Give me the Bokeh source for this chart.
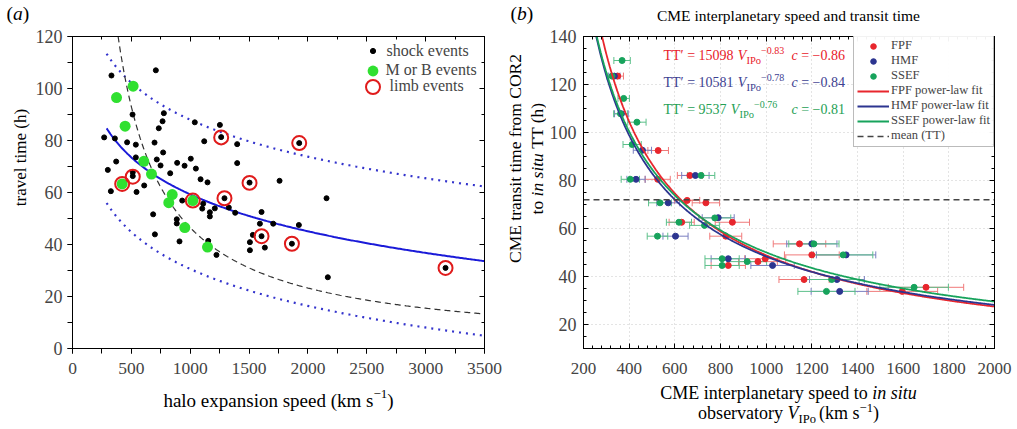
import numpy as np
from math import pi
from bokeh.plotting import figure
from bokeh.layouts import row, column
from bokeh.models import (Label, Legend, LegendItem, LinearAxis, Range1d,
                          SingleIntervalTicker, Whisker, TeeHead, ColumnDataSource)
from bokeh.embed import file_html
from bokeh.resources import INLINE

FONT = "Liberation Serif"

# ---------------- Panel (a) data ----------------
shock_speed = [331, 708, 510, 776, 765, 733, 1039, 1252, 269, 360, 464, 538, 697, 1119,
               1263, 1399, 1926, 371, 538, 770, 889, 952, 1005, 716, 748, 1048, 1399, 300,
               512, 512, 609, 830, 1088, 1147, 1759, 1504, 326, 544, 2158, 1291, 1110, 1102,
               1167, 1167, 1209, 1328, 1382, 932, 1606, 1592, 1705, 1923, 1532, 1606, 1507,
               1634, 1507, 1864, 685, 700, 886, 886, 909, 1153, 1223, 2169, 3169]
shock_time = [105, 107, 90, 90.5, 87.4, 84.7, 87, 86, 81.2, 80.8, 79.3, 78.4, 79.2, 79.7,
              81.3, 78.6, 79, 71.9, 73.5, 75.4, 71.4, 70.3, 73, 72.7, 70.4, 69.2, 71.3, 68.7,
              67.8, 66.3, 62.7, 67.4, 65.1, 63.9, 64.5, 63.8, 60.5, 60.2, 57.8, 57.8, 55.7, 53.8,
              52.4, 50.8, 53.9, 54.2, 52.2, 56.9, 52.5, 48, 48, 47.5, 43.7, 43.2, 40.9,
              38.8, 37.8, 40.3, 51.6, 43.9, 49.7, 48.1, 41.2, 41.4, 36, 27.4, 31]
mb_speed = [515, 374, 447, 606, 671, 422, 847, 818, 1022, 954, 1147]
mb_time = [100.9, 96.5, 85.5, 72.0, 67.1, 63.3, 59.2, 56.1, 56.9, 46.5, 39.0]
limb_speed = [1263, 1926, 512, 422, 1504, 1291, 1022, 1606, 1864, 3169]
limb_time = [81.2, 79, 66.1, 63.3, 63.7, 57.8, 56.9, 43.2, 40.3, 31.0]
# fitted relations drawn in panel (a)
fit_a_const = 200.9      # travel time = const + slope * ln(speed)
fit_a_slope = -20.5
fit_a_band = 28.7
fit_a_vmin = 290
dist_const = 46500        # travel time = dist_const / speed
a_xticks = [0, 500, 1000, 1500, 2000, 2500, 3000, 3500]
a_yticks = [0, 20, 40, 60, 80, 100, 120]

# ---------------- Panel (b) data ----------------
fpf_v = [350, 527, 525, 666, 654, 736, 630, 852, 823, 1146, 1200, 996, 964, 834, 1166, 1700, 1596]
fpf_tt = [123.5, 92.5, 80.5, 82.1, 71.7, 70.7, 62.6, 62.6, 56.8, 53.6, 49.0, 47.4, 46.2, 44.6, 38.75, 35.5, 33.8]
fpf_err = [25, 45, 55, 55, 55, 60, 55, 75, 70, 115, 120, 90, 85, 75, 110, 165, 155]
hmf_v = [335, 366, 458, 430, 690, 571, 790, 603, 1200, 1350, 834, 1028, 1310, 1322]
hmf_tt = [123.5, 107.8, 92.6, 80.5, 82.1, 70.7, 64.5, 56.8, 53.6, 49.0, 47.4, 44.6, 38.75, 33.8]
hmf_err = [25, 30, 40, 40, 60, 50, 70, 55, 110, 130, 75, 95, 120, 125]
ssef_v = [369, 325, 376, 362, 434, 413, 405, 715, 535, 775, 618, 730, 524, 1209, 1337, 807,
          917, 807, 1287, 1648, 1264]
ssef_tt = [130, 123.5, 114.2, 107.8, 104.3, 95, 80.5, 82.1, 70.7, 64.4, 62.6, 61.3, 56.8, 53.6,
           49.0, 47.4, 46.2, 44.6, 38.75, 35.5, 33.8]
ssef_err = [36, 22, 25, 30, 40, 40, 40, 60, 50, 70, 55, 65, 45, 110, 130, 75, 85, 75, 120, 150, 125]
fit_names = ["FPF", "HMF", "SSEF"]
fit_coef = [15098, 10581, 9537]
fit_exp = [-0.83, -0.78, -0.76]
fit_corr = [-0.86, -0.84, -0.81]
mean_tt = 72

RED, NAVY, GREEN = "#e8262d", "#2c3590", "#17a35c"
BAR_RED, BAR_NAVY, BAR_GREEN = "#f07a7a", "#7a7fc0", "#5cc08a"
TXT_RED, TXT_NAVY, TXT_GREEN = "#e8202a", "#3d4191", "#25a055"

# ---------------- text helpers ----------------
W = {' ': 250, '(': 333, ')': 333, '-': 333, '.': 250, ',': 250, '=': 564, '+': 564,
     '\u2212': 564, '\u2032': 275}
for ch in "0123456789":
    W[ch] = 500
W.update(dict(zip("ABCDEFGHIJKLMNOPQRSTUVWXYZ",
                  [722, 667, 667, 722, 611, 556, 722, 722, 333, 389, 722, 611, 889, 722, 722,
                   556, 722, 667, 556, 611, 722, 722, 944, 722, 722, 611])))
W.update(dict(zip("abcdefghijklmnopqrstuvwxyz",
                  [444, 500, 444, 500, 444, 333, 500, 500, 278, 278, 500, 278, 778, 500, 500,
                   500, 500, 333, 389, 278, 500, 500, 722, 500, 500, 444])))
WI = dict(W)
WI.update({'a': 500, 'V': 611, 'T': 556, 'f': 278, 'b': 500, 'c': 444})


def tw(s, size, italic=False):
    tab = WI if italic else W
    return sum(tab.get(c, 500) for c in s) * size / 1000.0


def put(fig, FL, FB, X, Y, text, size, color="black", italic=False, angle=0.0):
    fig.add_layout(Label(x=X - FL, y=FB - Y, x_units="screen", y_units="screen", text=text,
                         text_font=FONT, text_font_size=f"{size}px",
                         text_font_style="italic" if italic else "normal",
                         text_color=color, angle=angle, text_align="left",
                         text_baseline="middle"))


def rich(fig, FL, FB, X, Y, parts, color="black", anchor="left", vertical=False):
    """parts: (text, size, italic, dy). Y is the page baseline (horizontal) or the
    page centre (vertical). FL/FB = page position of the frame left / bottom."""
    widths = [tw(t, s, it) for (t, s, it, d) in parts]
    total = sum(widths)
    off = -total / 2 if anchor == "center" else 0
    cum = 0
    for (t, s, it, d), w in zip(parts, widths):
        lead = tw(t[:len(t) - len(t.lstrip(' '))], s, it)
        txt = t.strip(' ')
        if txt:
            if vertical:
                put(fig, FL, FB, X + d, Y - off - cum - lead, txt, s, color, it, angle=pi / 2)
            else:
                put(fig, FL, FB, X + off + cum + lead, Y + d - 0.34 * s, txt, s, color, it)
        cum += w


def style_axis(ax, size, inward, standoff, show_labels=True):
    ax.major_label_text_font = FONT
    ax.major_label_standoff = standoff
    if show_labels:
        ax.major_label_text_font_size = f"{size}px"
    else:
        ax.major_label_text_font_size = "0px"
        ax.major_label_text_color = None
    ax.axis_line_color = "black"
    ax.major_tick_line_color = "black"
    ax.minor_tick_line_color = "black"
    if inward:
        ax.major_tick_in, ax.major_tick_out = 5, 0
        ax.minor_tick_in, ax.minor_tick_out = 3, 0
    else:
        ax.major_tick_in, ax.major_tick_out = 0, 5
        ax.minor_tick_in, ax.minor_tick_out = 0, 5


def strip(w, h):
    f = figure(width=w, height=h, x_range=Range1d(0, 1), y_range=Range1d(0, 1),
               output_backend="svg", toolbar_location=None, x_axis_type=None,
               y_axis_type=None, min_border=0, min_border_left=0, min_border_right=0,
               min_border_top=0, min_border_bottom=0)
    f.outline_line_color = None
    f.background_fill_color = "white"
    f.border_fill_color = "white"
    return f


TOP_H, MID_H, BOT_H = 25, 358, 46
L1_W, P1_W, L2_W, P2_W = 32, 473, 41, 471
PAD_TOP = 36 - TOP_H

# ================= Panel (a) =================
FL1, FB1 = 72, 348
p1 = figure(width=P1_W, height=MID_H, x_range=Range1d(a_xticks[0], a_xticks[-1]),
            y_range=Range1d(a_yticks[0], a_yticks[-1]), output_backend="svg",
            toolbar_location=None, min_border_left=40, min_border_right=21,
            min_border_top=PAD_TOP, min_border_bottom=35)
p1.grid.visible = False
p1.outline_line_color = "black"
p1.background_fill_color = "white"
p1.xaxis.ticker = SingleIntervalTicker(interval=500, num_minor_ticks=2)
p1.yaxis.ticker = SingleIntervalTicker(interval=20, num_minor_ticks=2)
style_axis(p1.xaxis[0], 17.5, False, 9)
style_axis(p1.yaxis[0], 18, False, 5)
top1 = LinearAxis(ticker=SingleIntervalTicker(interval=500, num_minor_ticks=2))
style_axis(top1, 0, True, 0, show_labels=False)
p1.add_layout(top1, "above")
right1 = LinearAxis(ticker=SingleIntervalTicker(interval=20, num_minor_ticks=2))
style_axis(right1, 0, True, 0, show_labels=False)
p1.add_layout(right1, "right")

xs = np.linspace(fit_a_vmin, a_xticks[-1], 300)
fit = fit_a_const + fit_a_slope * np.log(xs)
p1.line(xs, fit + fit_a_band, line_color="#3333cc", line_width=2.2, line_dash="2 5")
p1.line(xs, fit - fit_a_band, line_color="#3333cc", line_width=2.2, line_dash="2 5")
xd = np.linspace(dist_const / a_yticks[-1], a_xticks[-1], 300)
p1.line(xd, dist_const / xd, line_color="#333333", line_width=1.2, line_dash="6 4")
p1.line(xs, fit, line_color="#1a1ad8", line_width=2)

r_shock = p1.scatter(shock_speed, shock_time, size=5, color="black")
r_mb = p1.scatter(mb_speed, mb_time, size=11, fill_color="#30e030", line_color=None)
r_limb = p1.scatter(limb_speed, limb_time, size=14, fill_color=None, line_color="#e01b1b",
                    line_width=2)


def one_legend(fig, text, rend, g, yc, FL, FB, xc, text_x, fs):
    lg = Legend(items=[LegendItem(label=text, renderers=[rend])],
                location=(xc - g / 2 - FL, FB - yc - g / 2), glyph_width=g, glyph_height=g,
                label_height=10, label_standoff=int(round(text_x - xc - g / 2)), padding=0,
                margin=0, spacing=0, border_line_alpha=0, background_fill_alpha=0,
                label_text_font=FONT, label_text_font_size=f"{fs}px")
    fig.add_layout(lg)


one_legend(p1, "shock events", r_shock, 13, 53, FL1, FB1, 372, 386, 16)
one_legend(p1, "M or B events", r_mb, 27, 70, FL1, FB1, 372, 386, 16)
one_legend(p1, "limb events", r_limb, 35, 86, FL1, FB1, 372, 386, 16)

# ================= Panel (b) =================
FL2, FB2 = 582, 349
p2 = figure(width=P2_W, height=MID_H, x_range=Range1d(200, 2000), y_range=Range1d(10, 140),
            output_backend="svg", toolbar_location=None, min_border_left=36,
            min_border_right=23, min_border_top=PAD_TOP, min_border_bottom=34)
p2.outline_line_color = "#333333"
p2.background_fill_color = "white"
p2.xaxis.ticker = SingleIntervalTicker(interval=200, num_minor_ticks=5)
p2.yaxis.ticker = SingleIntervalTicker(interval=20, num_minor_ticks=4)
style_axis(p2.xaxis[0], 17, True, 14)
style_axis(p2.yaxis[0], 18, True, 7)
top2 = LinearAxis(ticker=SingleIntervalTicker(interval=200, num_minor_ticks=5))
style_axis(top2, 0, True, 0, show_labels=False)
p2.add_layout(top2, "above")
right2 = LinearAxis(ticker=SingleIntervalTicker(interval=20, num_minor_ticks=4))
style_axis(right2, 0, True, 0, show_labels=False)
p2.add_layout(right2, "right")
p2.grid.grid_line_color = "#c8c8c8"
p2.grid.grid_line_dash = "1 3"

series = [("FPF", fpf_v, fpf_tt, fpf_err, RED, BAR_RED),
          ("HMF", hmf_v, hmf_tt, hmf_err, NAVY, BAR_NAVY),
          ("SSEF", ssef_v, ssef_tt, ssef_err, GREEN, BAR_GREEN)]
dot_r = {}
for name, v, tt, err, col, bcol in series:
    src = ColumnDataSource(dict(v=v, tt=tt, lo=[a - e for a, e in zip(v, err)],
                                hi=[a + e for a, e in zip(v, err)]))
    wk = Whisker(source=src, base="tt", lower="lo", upper="hi", dimension="width",
                 line_color=bcol, line_width=1, level="underlay",
                 upper_head=TeeHead(size=7, line_color=bcol, line_width=1),
                 lower_head=TeeHead(size=7, line_color=bcol, line_width=1))
    p2.add_layout(wk)
    dot_r[name] = p2.scatter("v", "tt", source=src, size=6, color=col)

xv = np.linspace(200, 2000, 500)
fit_cols = {"FPF": RED, "HMF": NAVY, "SSEF": GREEN}
fit_r = {}
for name, c0, ex in zip(fit_names, fit_coef, fit_exp):
    fit_r[name] = p2.line(xv, c0 * xv ** ex, line_color=fit_cols[name], line_width=1.8)
r_mean = p2.line([p2.x_range.start, p2.x_range.end], [mean_tt, mean_tt], line_color="#444444",
                 line_width=1.5, line_dash="6 4")

items = [LegendItem(label=n, renderers=[dot_r[n]]) for n in fit_names]
items += [LegendItem(label=f"{n} power-law fit", renderers=[fit_r[n]]) for n in fit_names]
items.append(LegendItem(label="mean (TT)", renderers=[r_mean]))
leg2 = Legend(items=items, location=(852 - FL2, 201), glyph_width=32,
              glyph_height=14, label_height=14, label_standoff=2, padding=3, margin=0,
              spacing=-1, border_line_color="#777777", border_line_width=1.3,
              background_fill_color="white", label_text_font=FONT,
              label_text_font_size="12.5px")
p2.add_layout(leg2)

txt_cols = [TXT_RED, TXT_NAVY, TXT_GREEN]
for i, (c0, ex, cc) in enumerate(zip(fit_coef, fit_exp, fit_corr)):
    yb = [61, 88, 115][i]
    col = txt_cols[i]
    rich(p2, FL2, FB2, 662, yb, [(f"TT\u2032 = {c0} ", 14, False, 0), ("V", 14, True, 0),
                                 ("IPo", 10.5, False, 4), (f"\u2212{abs(ex):.2f}", 10, False, -7)],
         color=col)
    rich(p2, FL2, FB2, 790, yb, [("c ", 14, True, 0), (f"= \u2212{abs(cc):.2f}", 14, False, 0)],
         color=col)

# ================= text strips around the panels =================
top = strip(1017, TOP_H)
rich(top, 0, TOP_H, 6, 20, [("(", 19.5, False, 0), ("a", 19.5, True, 0), (")", 19.5, False, 0)])
rich(top, 0, TOP_H, 510, 20, [("(", 19.5, False, 0), ("b", 19.5, True, 0), (")", 19.5, False, 0)])
rich(top, 0, TOP_H, 788, 20.5, [("CME interplanetary speed and transit time", 15.5, False, 0)],
     anchor="center")

left1 = strip(L1_W, MID_H)
rich(left1, 0, TOP_H + MID_H, 20, 192, [("travel time (h)", 17, False, 0)], anchor="center",
     vertical=True)

left2 = strip(L2_W, MID_H)
X0 = L1_W + P1_W
rich(left2, X0, TOP_H + MID_H, 514, 193, [("CME transit time from COR2", 17.5, False, 0)],
     anchor="center", vertical=True)
rich(left2, X0, TOP_H + MID_H, 536, 193, [("to ", 17.5, False, 0), ("in situ ", 17.5, True, 0),
                                           ("TT (h)", 17.5, False, 0)], anchor="center",
     vertical=True)

bottom = strip(1017, BOT_H)
YB0 = TOP_H + MID_H + BOT_H
rich(bottom, 0, YB0, 278, 406, [("halo expansion speed (km s", 19, False, 0),
                                ("\u22121", 13, False, -8), (")", 19, False, 0)], anchor="center")
rich(bottom, 0, YB0, 788, 399, [("CME interplanetary speed to ", 18, False, 0),
                                ("in situ", 18, True, 0)], anchor="center")
rich(bottom, 0, YB0, 788, 419, [("observatory ", 18, False, 0), ("V", 18, True, 0),
                                ("IPo ", 12.5, False, 4), ("(km s", 18, False, 0),
                                ("\u22121", 12.5, False, -7), (")", 18, False, 0)], anchor="center")

layout = column(top, row(left1, p1, left2, p2), bottom)
open("out.html", "w").write(file_html(layout, INLINE))
